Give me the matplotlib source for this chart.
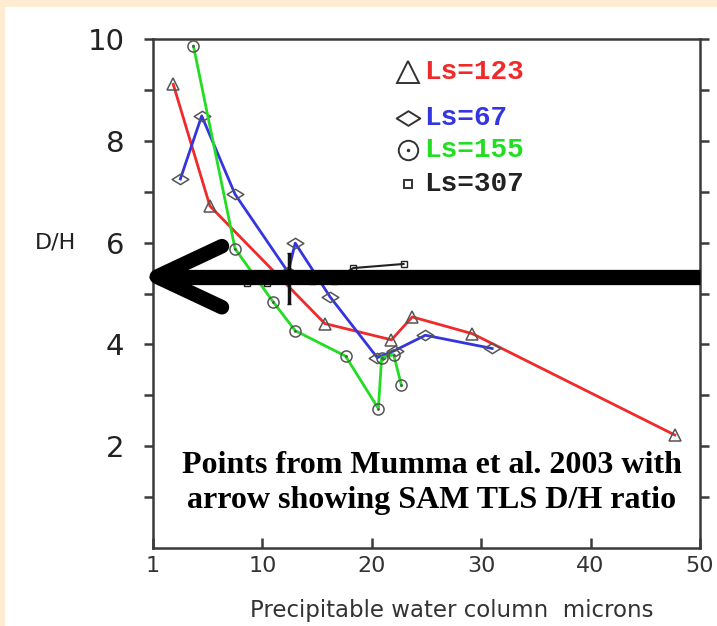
import numpy as np
import matplotlib.pyplot as plt
from matplotlib.patches import Rectangle
from matplotlib.path import Path

ls123_x = [1.85, 5.2, 15.7, 21.8, 23.7, 29.2, 47.7]
ls123_y = [9.11, 6.72, 4.41, 4.09, 4.54, 4.21, 2.22]

ls67_x = [2.5, 4.45, 7.5, 12.35, 13.0, 16.2, 20.5, 22.1, 24.9, 31.0]
ls67_y = [7.25, 8.49, 6.95, 5.42, 5.99, 4.93, 3.74, 3.88, 4.18, 3.92]

ls155_x = [3.7, 7.5, 11.0, 13.0, 17.6, 20.6, 20.9, 22.0, 22.7]
ls155_y = [9.86, 5.88, 4.83, 4.27, 3.77, 2.74, 3.74, 3.80, 3.20]

ls307_x = [8.6, 10.4, 12.4, 14.5, 16.5, 18.3, 22.9]
ls307_y = [5.20, 5.20, 5.30, 5.25, 5.25, 5.50, 5.58]
ls307_err_x = 12.4
ls307_err = 0.5

sam_dh = 5.33  # SAM TLS D/H ratio (arrow)

x_ticks = [0, 10, 20, 30, 40, 50]
x_ticklabels = ['1', '10', '20', '30', '40', '50']
y_ticks = [2, 4, 6, 8, 10]

legend_labels = ['Ls=123', 'Ls=67', 'Ls=155', 'Ls=307']
legend_colors = ['#f02a2a', '#3535e0', '#22dd22', '#222222']

# --- figure ---
fig = plt.figure(figsize=(7.17, 6.26), dpi=100, facecolor='white')
# peach border of the slide along the top and left edges
peach = '#fdebd2'
fig.patches.append(Rectangle((0, 1 - 7 / 626), 1, 7 / 626, transform=fig.transFigure,
                             facecolor=peach, edgecolor='none'))
fig.patches.append(Rectangle((0, 0), 5 / 717, 1, transform=fig.transFigure,
                             facecolor=peach, edgecolor='none'))

ax = fig.add_axes([153 / 717, 1 - 548 / 626, 547 / 717, 509 / 626])

edge = '#555555'
diamond = Path([(-1, 0), (0, 0.62), (1, 0), (0, -0.62), (-1, 0)],
               [Path.MOVETO, Path.LINETO, Path.LINETO, Path.LINETO, Path.CLOSEPOLY])

ax.plot(ls123_x, ls123_y, color=legend_colors[0], lw=2.0, marker='^', ms=9,
        mfc='none', mec=edge, mew=1.1, zorder=3)
ax.plot(ls67_x, ls67_y, color=legend_colors[1], lw=2.0, marker=diamond, ms=12,
        mfc='none', mec=edge, mew=1.1, zorder=3)
ax.plot(ls155_x, ls155_y, color=legend_colors[2], lw=2.0, marker='o', ms=8,
        mfc='none', mec=edge, mew=1.1, zorder=3)
ax.plot(ls155_x, ls155_y, ls='none', marker='.', ms=2, color=edge, zorder=3)
ax.plot(ls307_x, ls307_y, color='#222222', lw=1.5, marker='s', ms=4,
        mfc='none', mec='#222222', mew=1.0, zorder=3)
ax.errorbar([ls307_err_x], [ls307_y[2]], yerr=ls307_err, fmt='none',
            ecolor='#111111', elinewidth=2.5, capsize=1.5, zorder=3)

# arrow showing SAM TLS value
ax.plot([0.35, 50], [sam_dh, sam_dh], color='black', lw=11, solid_capstyle='butt',
        clip_on=False, zorder=6)
ax.plot([6.3, 0.35, 6.3], [sam_dh + 0.6, sam_dh, sam_dh - 0.6], color='black',
        lw=10.5, solid_capstyle='round', solid_joinstyle='round', clip_on=False, zorder=6)
ax.plot([0.05], [sam_dh], marker='<', ms=7, color='#ff2a2a', clip_on=False, zorder=5)

# hand-made legend
leg_y = [0.935, 0.845, 0.782, 0.715]
leg_markers = ['^', diamond, 'o', 's']
leg_ms = [16, 17, 14, 6]
for lab, col, mk, ms, yy in zip(legend_labels, legend_colors, leg_markers, leg_ms, leg_y):
    ax.plot([0.466], [yy], transform=ax.transAxes, marker=mk, ms=ms, mfc='none',
            mec='#333333', mew=1.4, ls='none', zorder=4)
    ax.text(0.496, yy, lab, transform=ax.transAxes, color=col, fontsize=20,
            family='Liberation Mono', fontweight='bold', va='center', ha='left')
ax.plot([0.466], [leg_y[2]], transform=ax.transAxes, marker='.', ms=3, color='#333333')

ax.set_xlim(0, 50)
ax.set_ylim(0, 10)
ax.set_xticks(x_ticks)
ax.set_xticklabels(x_ticklabels)
ax.set_yticks(y_ticks)
ax.set_yticks([1, 3, 5, 7, 9], minor=True)

for s in ax.spines.values():
    s.set_color('#3a3a3a')
    s.set_linewidth(1.8)

ax.tick_params(axis='y', which='both', direction='out', left=True, right=True,
               length=6.5, width=1.8, color='#3a3a3a', labelsize=21, pad=14,
               labelcolor='#222222')
ax.tick_params(axis='x', direction='in', length=7, width=1.8, color='#3a3a3a',
               labelsize=16, pad=6, labelcolor='#333333')

fig.text(35 / 717, 1 - 243 / 626, 'D/H', fontsize=16, color='#222222',
         ha='left', va='center')
fig.text(452 / 717, 1 - 610 / 626, 'Precipitable water column  microns', fontsize=16.5,
         color='#333333', ha='center', va='center')

fig.text(432 / 717, 1 - 483 / 626,
         'Points from Mumma et al. 2003 with\narrow showing SAM TLS D/H ratio',
         family='Liberation Serif', fontweight='bold', fontsize=23, color='black',
         ha='center', va='center', multialignment='center', linespacing=1.25)

fig.savefig('out.png', dpi=100, facecolor=fig.get_facecolor())
